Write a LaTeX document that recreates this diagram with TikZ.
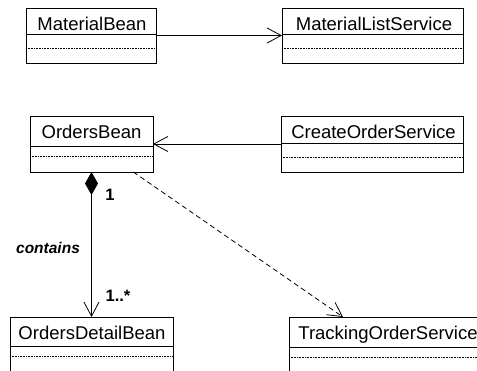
\documentclass[tikz,border=0pt]{standalone}
\usepackage{fontspec}
\setmainfont{Liberation Sans}
\usetikzlibrary{arrows.meta,calc}
\begin{document}
\begin{tikzpicture}[x=1pt,y=-1pt,
  cbox/.style={draw=black,line width=0.8pt,fill=none,inner sep=0pt,outer sep=0pt},
  ctitle/.style={anchor=base,inner sep=0pt,font=\fontsize{18.5}{21}\selectfont},
  div/.style={line width=0.7pt},
  div2/.style={line width=0.6pt,densely dotted},
  conn/.style={line width=0.8pt},
  barb/.style={-{Straight Barb[length=14pt,width=15pt,line width=0.8pt]}},
  lbl/.style={inner sep=0pt,font=\fontsize{15}{18}\selectfont\bfseries}
]
\useasboundingbox (0,0) rectangle (477,371);
\clip (0,0) rectangle (477,371);

% MaterialBean
\node[cbox,minimum width=130pt,minimum height=55pt] (mb) at (91,35.5) {};
\node[ctitle] (mbt) at (92,31) {MaterialBean};
\draw[div] (mb.west |- 0,34) -- (mb.east |- 0,34);
\draw[div2] (mb.west |- 0,48) -- (mb.east |- 0,48);

% MaterialListService
\node[cbox,minimum width=181pt,minimum height=55pt] (mls) at (372.5,35.5) {};
\node[ctitle] (mlst) at (374,30.5) {MaterialListService};
\draw[div] (mls.west |- 0,34) -- (mls.east |- 0,34);
\draw[div2] (mls.west |- 0,48) -- (mls.east |- 0,48);

% OrdersBean
\node[cbox,minimum width=123pt,minimum height=56pt] (ob) at (91.5,144) {};
\node[ctitle] (obt) at (91.5,139) {OrdersBean};
\draw[div] (ob.west |- 0,146) -- (ob.east |- 0,146);
\draw[div2] (ob.west |- 0,156) -- (ob.east |- 0,156);

% CreateOrderService
\node[cbox,minimum width=182pt,minimum height=56pt] (cos) at (372,144) {};
\node[ctitle] (cost) at (373.5,139) {CreateOrderService};
\draw[div] (cos.west |- 0,143) -- (cos.east |- 0,143);
\draw[div2] (cos.west |- 0,157) -- (cos.east |- 0,157);

% OrdersDetailBean
\node[cbox,minimum width=163pt,minimum height=80pt] (odb) at (91.5,357) {};
\node[ctitle] (odbt) at (92,340) {OrdersDetailBean};
\draw[div] (odb.west |- 0,346) -- (odb.east |- 0,346);
\draw[div2] (odb.west |- 0,356) -- (odb.east |- 0,356);

% TrackingOrderService
\node[cbox,minimum width=200pt,minimum height=80pt] (tos) at (389,357) {};
\node[ctitle] (tost) at (388,340) {TrackingOrderService};
\draw[div] (tos.west |- 0,347) -- (tos.east |- 0,347);
\draw[div2] (tos.west |- 0,357) -- (tos.east |- 0,357);

% connectors
\draw[conn,barb] (mb.east) -- (mls.west);
\draw[conn,barb] (cos.west) -- (ob.east);
\draw[conn,{Diamond[length=23pt,width=13pt,fill=black]}-{Straight Barb[length=14pt,width=15pt,line width=0.8pt]}] (ob.south) -- (odb.north);
\coordinate (depA) at ($(ob.south west)!0.84!(ob.south east)$);
\coordinate (depB) at ([xshift=54pt]tos.north west);
\draw[conn,dashed,dash pattern=on 5pt off 3.5pt,barb] (depA) -- (depB);

% labels
\node[lbl,font=\fontsize{15.5}{18}\selectfont\bfseries\itshape] (contains) at (48,248) {contains};
\node[lbl,font=\fontsize{16.5}{18}\selectfont\bfseries] (one) at (110,195) {1};
\node[lbl,font=\fontsize{16.5}{18}\selectfont\bfseries] (many) at (118,296) {1..*};
\end{tikzpicture}
\end{document}
